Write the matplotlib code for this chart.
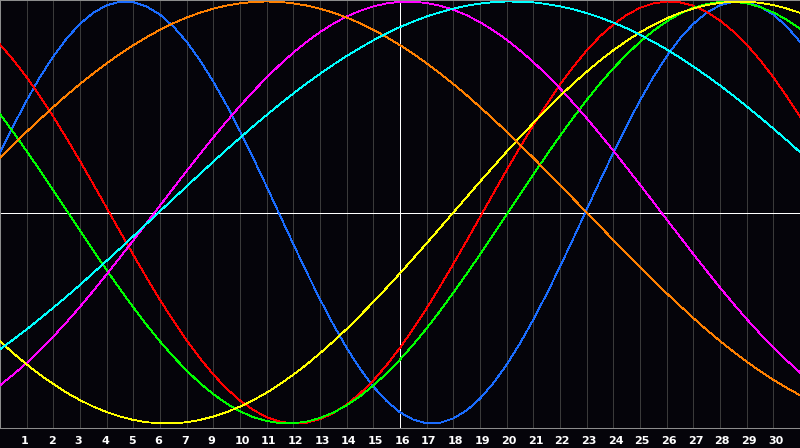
import numpy as np
import matplotlib
matplotlib.use("Agg")
import matplotlib.pyplot as plt
import matplotlib.transforms as mtransforms

# half-day steps across the 30 day window, values in per mille of the cycle amplitude
days = np.arange(61) / 2
tick_pos = list(range(1, 30))
tick_labels = [str(d) for d in list(range(1, 8)) + list(range(9, 31))]
today = 15

physical = [283,411,531,642,740,825,894,947,982,999,997,976,938,882,809,721,620,508,386,257,123,-14,-150,-283,-411,-531,-642,-740,-825,-894,-947,-982,-999,-997,-976,-938,-882,-809,-721,-620,-508,-386,-257,-123,14,150,283,411,531,642,740,825,894,947,982,999,997,976,938,882,809]
emotional = [796,723,641,551,454,351,244,134,22,-90,-201,-309,-414,-513,-606,-691,-768,-835,-891,-936,-970,-991,-1000,-996,-980,-951,-910,-858,-796,-723,-641,-551,-454,-351,-244,-134,-22,90,201,309,414,513,606,691,768,835,891,936,970,991,1000,996,980,951,910,858,796,723,641,551,454]
intellectual = [467,380,291,199,105,10,-86,-180,-273,-363,-450,-533,-611,-683,-749,-809,-861,-906,-942,-970,-988,-998,-999,-991,-974,-948,-914,-871,-820,-762,-697,-626,-549,-467,-380,-291,-199,-105,-10,86,180,273,363,450,533,611,683,749,809,861,906,942,970,988,998,999,991,974,948,914,871]
intuitive = [-819,-768,-713,-653,-588,-519,-447,-371,-293,-213,-132,-50,33,115,197,277,356,432,505,574,640,701,758,809,855,895,929,956,977,991,999,999,993,980,961,935,902,863,819,768,713,653,588,519,447,371,293,213,132,50,-33,-115,-197,-277,-356,-432,-505,-574,-640,-701,-758]
aesthetic = [-611,-667,-720,-769,-813,-854,-889,-920,-946,-967,-983,-994,-999,-999,-994,-983,-967,-946,-920,-889,-854,-813,-769,-720,-667,-611,-552,-489,-424,-357,-288,-217,-146,-73,0,73,146,217,288,357,424,489,552,611,667,720,769,813,854,889,920,946,967,983,994,999,999,994,983,967,946]
awareness = [259,321,383,442,500,556,609,659,707,752,793,831,866,897,924,947,966,981,991,998,1000,998,991,981,966,947,924,897,866,831,793,752,707,659,609,556,500,442,383,321,259,195,131,65,0,-65,-131,-195,-259,-321,-383,-442,-500,-556,-609,-659,-707,-752,-793,-831,-866]
spiritual = [-648,-602,-554,-503,-451,-398,-343,-286,-229,-171,-112,-53,6,65,124,183,241,298,354,409,462,514,564,612,657,701,742,780,816,849,879,905,929,949,966,980,990,997,1000,999,996,988,977,963,945,924,900,873,842,809,773,734,692,648,602,554,503,451,398,343,286]

series = [physical, emotional, intellectual, intuitive, aesthetic, awareness, spiritual]
colors = ["#1a6cff", "#ff0000", "#00ff00", "#ff00ff", "#ffff00", "#ff8000", "#00ffff"]

bg = "#05040a"
fig = plt.figure(figsize=(8, 4.48), dpi=100, facecolor=bg)
ax = fig.add_axes([0, 20 / 448, 1, 428 / 448], facecolor=bg)

for v, c in zip(series, colors):
    ax.plot(days, v, color=c, lw=0.6, antialiased=False, zorder=3)

for x in tick_pos:
    ax.axvline(x, color="#3a3a3a", lw=0.6, antialiased=False, zorder=1)
ax.axvline(today, color="white", lw=0.6, antialiased=False, zorder=2)
ax.axhline(0, color="white", lw=0.6, antialiased=False, zorder=2)

ax.set_xlim(0, 30)
ax.set_ylim(-1021.3, 1007.1)
ax.set_yticks([])
ax.set_xticks(tick_pos, tick_labels)
ax.tick_params(axis="x", length=0, pad=6, colors="white", labelsize=8)
off = mtransforms.ScaledTranslation(-5.5 / 100, 0, fig.dpi_scale_trans)
for lab in ax.get_xticklabels():
    lab.set_ha("left")
    lab.set_fontweight("bold")
    lab.set_transform(lab.get_transform() + off)

for s in ["left", "top", "bottom"]:
    ax.spines[s].set_color("#8c8c8c")
    ax.spines[s].set_linewidth(0.75)
ax.spines["right"].set_visible(False)

fig.savefig("out.png", dpi=100, facecolor=fig.get_facecolor())
